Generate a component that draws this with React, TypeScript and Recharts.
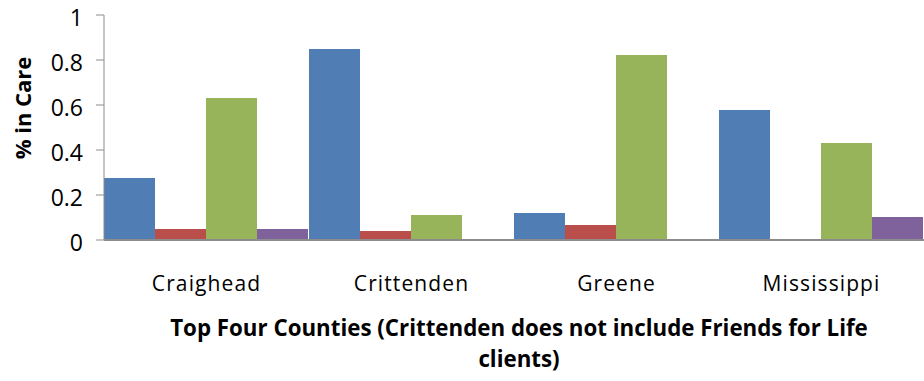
import React from 'react';
import { BarChart, Bar, XAxis, YAxis, Label } from 'recharts';

const counties = ['Craighead', 'Crittenden', 'Greene', 'Mississippi'];
const seriesA = [0.276, 0.849, 0.12, 0.578];
const seriesB = [0.049, 0.04, 0.067, 0];
const seriesC = [0.631, 0.111, 0.822, 0.431];
const seriesD = [0.049, 0, 0, 0.102];
const yTicks = [0, 0.2, 0.4, 0.6, 0.8, 1];

const data = counties.map((name, i) => ({
  name,
  a: seriesA[i],
  b: seriesB[i],
  c: seriesC[i],
  d: seriesD[i],
}));

const font = '"Open Sans", sans-serif';
const axisColor = '#8c8c8c';

const XTick = (props: any) => {
  const { x, y, payload } = props;
  return (
    <text x={x} y={y + 49} textAnchor="middle" fontFamily={font} fontSize={21} letterSpacing={1.1} fill="#000">
      {payload.value}
    </text>
  );
};

const YTick = (props: any) => {
  const { x, y, payload } = props;
  return (
    <text x={x - 11} y={y + 11} textAnchor="end" fontFamily={font} fontSize={23} fill="#000">
      {payload.value}
    </text>
  );
};

const XTitle = (props: any) => {
  const { viewBox } = props;
  const cx = viewBox.x + viewBox.width / 2 + 5;
  return (
    <text textAnchor="middle" fontFamily={font} fontSize={22.3} fontWeight="bold" fill="#000">
      <tspan x={cx} y={336}>Top Four Counties (Crittenden does not include Friends for Life</tspan>
      <tspan x={cx} y={367}>clients)</tspan>
    </text>
  );
};

const YTitle = () => (
  <text
    transform="translate(31, 108) rotate(-90)"
    textAnchor="middle"
    fontFamily={font}
    fontSize={22}
    fontWeight="bold"
    fill="#000"
  >
    % in Care
  </text>
);

export default function App() {
  return (
    <div style={{ position: 'absolute', left: 0, top: 0, background: '#fff' }}>
      <BarChart
        width={924}
        height={381}
        data={data}
        margin={{ top: 15, right: 0, left: 0, bottom: 0 }}
        barCategoryGap={0}
        barGap={0}
      >
        <XAxis
          dataKey="name"
          height={141}
          tickLine={false}
          tickSize={0}
          stroke={axisColor}
          strokeWidth={2}
          tick={<XTick />}
        >
          <Label content={<XTitle />} />
        </XAxis>
        <YAxis
          width={104}
          domain={[0, 1]}
          ticks={yTicks}
          tickSize={8}
          stroke={axisColor}
          tick={<YTick />}
        >
          <Label content={<YTitle />} />
        </YAxis>
        <Bar dataKey="a" fill="#4F7DB4" isAnimationActive={false} />
        <Bar dataKey="b" fill="#BA4E4B" isAnimationActive={false} />
        <Bar dataKey="c" fill="#98B45B" isAnimationActive={false} />
        <Bar dataKey="d" fill="#7F629C" isAnimationActive={false} />
      </BarChart>
    </div>
  );
}
